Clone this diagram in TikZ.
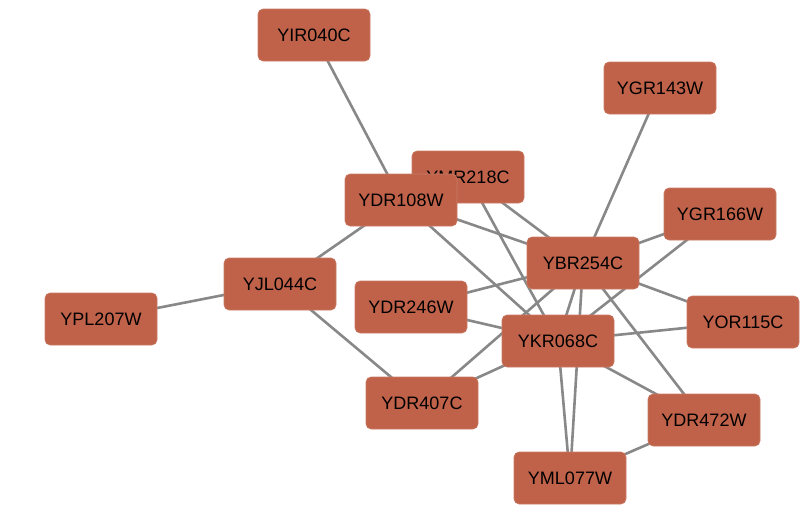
\documentclass[tikz,border=0pt]{standalone}
\usepackage{fontspec}
\setmainfont{Liberation Sans}
\usetikzlibrary{backgrounds}
\definecolor{genefill}{HTML}{C0624A}
\definecolor{edgegray}{HTML}{888888}
\begin{document}
\begin{tikzpicture}[x=1pt,y=-1pt,
  gene/.style={rectangle, rounded corners=5pt, fill=genefill, draw=genefill!85!white, line width=0.6pt,
    minimum width=112pt, minimum height=52pt, inner sep=0pt,
    font=\fontsize{18}{20}\selectfont, text=black},
  link/.style={draw=edgegray, line width=2.6pt}]
\useasboundingbox (0,0) rectangle (812,522);
% gene nodes (YMR218C lies under YDR108W)
\node[gene] (YIR040C) at (314,35) {YIR040C};
\node[gene] (YGR143W) at (660,88) {YGR143W};
\node[gene] (YMR218C) at (468,177) {YMR218C};
\node[gene] (YDR108W) at (401,200) {YDR108W};
\node[gene] (YGR166W) at (720,214) {YGR166W};
\node[gene] (YBR254C) at (583,263) {YBR254C};
\node[gene] (YJL044C) at (280,284) {YJL044C};
\node[gene] (YDR246W) at (411,307) {YDR246W};
\node[gene] (YPL207W) at (101,319) {YPL207W};
\node[gene] (YOR115C) at (743,322) {YOR115C};
\node[gene] (YKR068C) at (558,341) {YKR068C};
\node[gene] (YDR407C) at (422,403) {YDR407C};
\node[gene] (YDR472W) at (704,420) {YDR472W};
\node[gene] (YML077W) at (570,478) {YML077W};
% interactions, drawn beneath the nodes
\begin{scope}[on background layer]
\draw[link] (YIR040C.center) -- (YDR108W.center);
\draw[link] (YDR108W.center) -- (YJL044C.center);
\draw[link] (YJL044C.center) -- (YPL207W.center);
\draw[link] (YJL044C.center) -- (YDR407C.center);
\draw[link] (YGR143W.center) -- (YBR254C.center);
\draw[link] (YMR218C.center) -- (YBR254C.center);
\draw[link] (YMR218C.center) -- (YKR068C.center);
\draw[link] (YDR108W.center) -- (YBR254C.center);
\draw[link] (YDR108W.center) -- (YKR068C.center);
\draw[link] (YDR246W.center) -- (YBR254C.center);
\draw[link] (YDR246W.center) -- (YKR068C.center);
\draw[link] (YBR254C.center) -- (YKR068C.center);
\draw[link] (YBR254C.center) -- (YDR407C.center);
\draw[link] (YKR068C.center) -- (YDR407C.center);
\draw[link] (YGR166W.center) -- (YBR254C.center);
\draw[link] (YGR166W.center) -- (YKR068C.center);
\draw[link] (YOR115C.center) -- (YBR254C.center);
\draw[link] (YOR115C.center) -- (YKR068C.center);
\draw[link] (YBR254C.center) -- (YDR472W.center);
\draw[link] (YKR068C.center) -- (YDR472W.center);
\draw[link] (YBR254C.center) -- (YML077W.center);
\draw[link] (YKR068C.center) -- (YML077W.center);
\draw[link] (YDR472W.center) -- (YML077W.center);
\end{scope}
\end{tikzpicture}
\end{document}
